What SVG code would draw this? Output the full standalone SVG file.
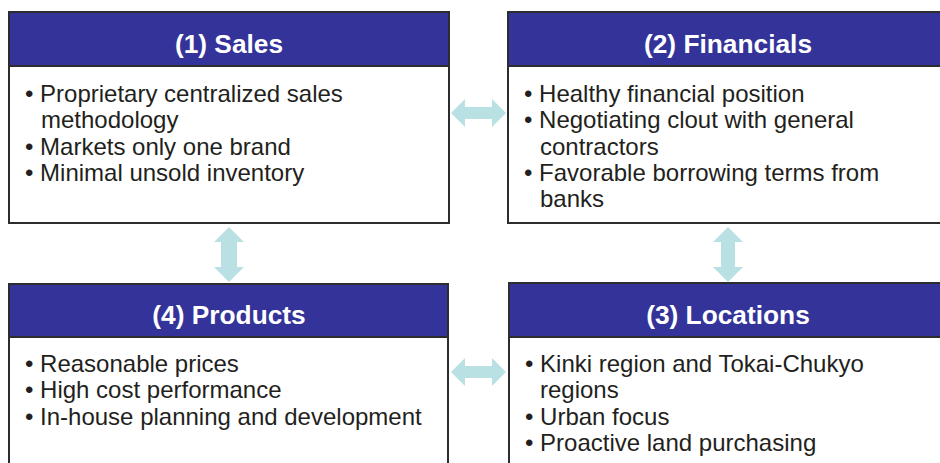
<svg xmlns="http://www.w3.org/2000/svg" width="940" height="463" viewBox="0 0 940 463">
<defs>
<style>
.box{fill:#ffffff;stroke:#2d2c2e;stroke-width:2}
.hdr{fill:#343399;stroke:#2d2c2e;stroke-width:2}
.ttl{font-family:"Liberation Sans",Arial,sans-serif;font-weight:bold;font-size:26.3px;fill:#ffffff;text-anchor:middle}
.txt{font-family:"Liberation Sans",Arial,sans-serif;font-size:24px;fill:#231f20}
.arr{fill:#b9e0e3;stroke:none}
</style>
</defs>
<rect width="940" height="463" fill="#ffffff"/>
<g id="node-sales">
<rect class="box" x="9" y="12" width="440" height="211"/>
<rect class="hdr" x="9" y="12" width="440" height="54"/>
<text class="ttl" x="229" y="52.5">(1) Sales</text>
<text class="txt" x="25" y="102">• Proprietary centralized sales</text>
<text class="txt" x="41" y="128.3">methodology</text>
<text class="txt" x="25" y="154.6">• Markets only one brand</text>
<text class="txt" x="25" y="181">• Minimal unsold inventory</text>
</g>
<g id="node-financials">
<rect class="box" x="508" y="12" width="440" height="211"/>
<rect class="hdr" x="508" y="12" width="440" height="54"/>
<text class="ttl" x="728" y="52.5">(2) Financials</text>
<text class="txt" x="524" y="102">• Healthy financial position</text>
<text class="txt" x="524" y="128.3">• Negotiating clout with general</text>
<text class="txt" x="540" y="154.6">contractors</text>
<text class="txt" x="524" y="181">• Favorable borrowing terms from</text>
<text class="txt" x="540" y="207.3">banks</text>
</g>
<g id="node-locations">
<rect class="box" x="509" y="283" width="440" height="200"/>
<rect class="hdr" x="509" y="283" width="440" height="54"/>
<text class="ttl" x="728" y="323.5">(3) Locations</text>
<text class="txt" x="525" y="371.7">• Kinki region and Tokai-Chukyo</text>
<text class="txt" x="540" y="398">regions</text>
<text class="txt" x="525" y="424.5">• Urban focus</text>
<text class="txt" x="525" y="451">• Proactive land purchasing</text>
</g>
<g id="node-products">
<rect class="box" x="9" y="284" width="439" height="200"/>
<rect class="hdr" x="9" y="284" width="439" height="53"/>
<text class="ttl" x="229" y="323.5">(4) Products</text>
<text class="txt" x="25" y="371.7">• Reasonable prices</text>
<text class="txt" x="25" y="398.3">• High cost performance</text>
<text class="txt" x="25" y="425">• In-house planning and development</text>
</g>
<g id="connectors">
<polygon class="arr" points="451,113 465,99 465,107 492,107 492,99 506,113 492,127 492,119 465,119 465,127"/>
<polygon class="arr" points="451,372 465,358 465,366 492,366 492,358 506,372 492,386 492,378 465,378 465,386"/>
<polygon class="arr" points="229,227 244,242 237,242 237,267 244,267 229,282 214,267 221,267 221,242 214,242"/>
<polygon class="arr" points="728,227 743,242 735,242 735,267 743,267 728,282 713,267 721,267 721,242 713,242"/>
</g>
</svg>
